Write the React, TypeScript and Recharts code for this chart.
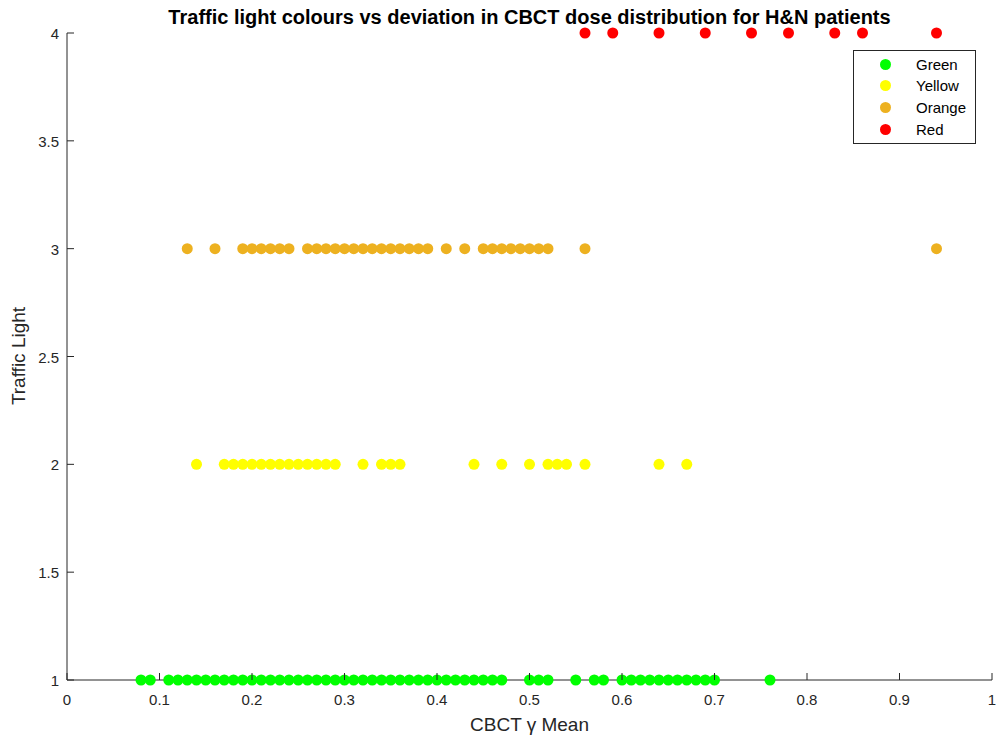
import { ScatterChart, Scatter, XAxis, YAxis } from 'recharts'

// CBCT gamma mean per patient, grouped by traffic light level
const greenX = [
  0.08, 0.09, 0.11, 0.12, 0.13, 0.14, 0.15, 0.16, 0.17, 0.18, 0.19, 0.2, 0.21, 0.22,
  0.23, 0.24, 0.25, 0.26, 0.27, 0.28, 0.29, 0.3, 0.31, 0.32, 0.33, 0.34, 0.35, 0.36,
  0.37, 0.38, 0.39, 0.4, 0.41, 0.42, 0.43, 0.44, 0.45, 0.46, 0.47, 0.5, 0.51, 0.52,
  0.55, 0.57, 0.58, 0.6, 0.61, 0.62, 0.63, 0.64, 0.65, 0.66, 0.67, 0.68, 0.69, 0.7, 0.76,
]
const yellowX = [
  0.14, 0.17, 0.18, 0.19, 0.2, 0.21, 0.22, 0.23, 0.24, 0.25, 0.26, 0.27, 0.28, 0.29,
  0.32, 0.34, 0.35, 0.36, 0.44, 0.47, 0.5, 0.52, 0.53, 0.54, 0.56, 0.64, 0.67,
]
const orangeX = [
  0.13, 0.16, 0.19, 0.2, 0.21, 0.22, 0.23, 0.24, 0.26, 0.27, 0.28, 0.29, 0.3, 0.31,
  0.32, 0.33, 0.34, 0.35, 0.36, 0.37, 0.38, 0.39, 0.41, 0.43, 0.45, 0.46, 0.47, 0.48,
  0.49, 0.5, 0.51, 0.52, 0.56, 0.94,
]
const redX = [0.56, 0.59, 0.64, 0.69, 0.74, 0.78, 0.83, 0.86, 0.94]

const xTicks = [0, 0.1, 0.2, 0.3, 0.4, 0.5, 0.6, 0.7, 0.8, 0.9, 1]
const yTicks = [1, 1.5, 2, 2.5, 3, 3.5, 4]

const series = [
  { name: 'Green', color: '#00ff00', level: 1, xs: greenX },
  { name: 'Yellow', color: '#ffff00', level: 2, xs: yellowX },
  { name: 'Orange', color: '#edb120', level: 3, xs: orangeX },
  { name: 'Red', color: '#ff0000', level: 4, xs: redX },
]

const FONT = '"Liberation Sans", Arial, Helvetica, sans-serif'
const AXIS = '#262626'

const XTick = ({ x, y, payload }: any) => (
  <g>
    <line x1={x} y1={y} x2={x} y2={y - 7} stroke={AXIS} />
    <text x={x} y={y + 25} textAnchor="middle" fontSize={15} fill={AXIS} fontFamily={FONT}>
      {payload.value}
    </text>
  </g>
)

const YTick = ({ x, y, payload }: any) => (
  <g>
    <line x1={x} y1={y} x2={x + 7} y2={y} stroke={AXIS} />
    <text x={x - 8} y={y + 6} textAnchor="end" fontSize={15} fill={AXIS} fontFamily={FONT}>
      {payload.value}
    </text>
  </g>
)

const makeDot = (color: string) => (p: any) =>
  <circle cx={p.cx} cy={p.cy} r={5.5} fill={color} />

export default function App() {
  return (
    <div style={{ position: 'absolute', left: 0, top: 0, width: 998, height: 742, background: '#fff', fontFamily: FONT }}>
      <ScatterChart width={998} height={742} margin={{ top: 33, right: 6, left: 27, bottom: 32 }}>
        <XAxis
          type="number"
          dataKey="x"
          domain={[0, 1]}
          ticks={xTicks}
          interval={0}
          height={30}
          tickSize={0}
          tickMargin={0}
          tickLine={false}
          axisLine={{ stroke: AXIS }}
          tick={<XTick />}
        />
        <YAxis
          type="number"
          dataKey="y"
          domain={[1, 4]}
          ticks={yTicks}
          interval={0}
          width={40}
          tickSize={0}
          tickMargin={0}
          tickLine={false}
          axisLine={{ stroke: AXIS }}
          tick={<YTick />}
        />
        {series.map(s => (
          <Scatter
            key={s.name}
            name={s.name}
            data={s.xs.map(x => ({ x, y: s.level }))}
            fill={s.color}
            shape={makeDot(s.color)}
            isAnimationActive={false}
          />
        ))}
      </ScatterChart>

      <div style={{ position: 'absolute', top: 6, left: 67, width: 925, textAlign: 'center', fontSize: 20, fontWeight: 'bold', color: '#000', whiteSpace: 'nowrap' }}>
        Traffic light colours vs deviation in CBCT dose distribution for H&amp;N patients
      </div>
      <div style={{ position: 'absolute', top: 714, left: 67, width: 925, textAlign: 'center', fontSize: 19, color: AXIS }}>
        CBCT γ Mean
      </div>
      <div style={{ position: 'absolute', left: 19, top: 356, width: 0, height: 0 }}>
        <div style={{ position: 'absolute', transform: 'translate(-50%, -50%) rotate(-90deg)', whiteSpace: 'nowrap', fontSize: 19, color: AXIS }}>
          Traffic Light
        </div>
      </div>

      <div style={{ position: 'absolute', left: 853, top: 50, width: 121, height: 92, border: `1px solid ${AXIS}`, background: '#fff' }}>
        {series.map((s, i) => (
          <div key={s.name} style={{ position: 'absolute', left: 0, top: 4 + i * 21.7, height: 18, display: 'flex', alignItems: 'center' }}>
            <span style={{ position: 'absolute', left: 26, width: 11, height: 11, borderRadius: '50%', background: s.color }} />
            <span style={{ position: 'absolute', left: 62, fontSize: 15, color: '#000', whiteSpace: 'nowrap' }}>{s.name}</span>
          </div>
        ))}
      </div>
    </div>
  )
}
